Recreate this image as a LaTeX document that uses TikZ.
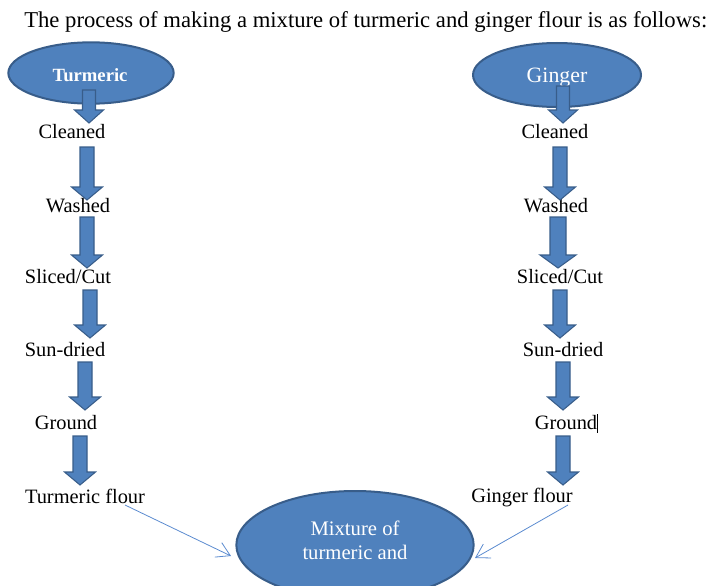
\documentclass[tikz,border=0pt]{standalone}
\usepackage{fontspec}
\setmainfont{Liberation Serif}
\usetikzlibrary{arrows.meta,shapes.geometric}
\definecolor{fillblue}{HTML}{4F81BD}
\definecolor{edgeblue}{HTML}{385D8A}
\definecolor{lineblue}{HTML}{5B8BD0}
\tikzset{
  lbl/.style={font=\fontsize{15.3}{17}\selectfont, inner sep=0pt, anchor=center},
  oval/.style={ellipse, fill=fillblue, draw=edgeblue, line width=1.5pt},
  thinarrow/.style={draw=lineblue, line width=0.6pt, -{Straight Barb[length=10pt,width=12pt,line width=0.6pt]}},
}
\newcommand{\barrow}[5]{% x, ytop, ytip, shaft half width, head half width
  \draw[fill=fillblue, draw=edgeblue, line width=0.8pt]
    ({#1-#4},#2) -- ({#1+#4},#2) -- ({#1+#4},{#3-13}) -- ({#1+#5},{#3-13})
    -- (#1,#3) -- ({#1-#5},{#3-13}) -- ({#1-#4},{#3-13}) -- cycle;}
\begin{document}
\begin{tikzpicture}[x=0.75pt,y=-0.75pt]
\useasboundingbox (0,0) rectangle (712,585);
\clip (0,0) rectangle (712,585);
\node[lbl, font=\fontsize{17}{19}\selectfont, anchor=west] (title) at (24,22) {The process of making a mixture of turmeric and ginger flour is as follows:};

% ovals
\node[oval, minimum width=124pt, minimum height=46pt] (t0) at (91,73) {};
\node[font=\fontsize{14}{16}\selectfont\bfseries, text=white] at (90,75) {Turmeric};
\node[oval, minimum width=126pt, minimum height=48pt] (g0) at (557,75) {};
\node[font=\fontsize{16.4}{18}\selectfont, text=white] at (557,78) {Ginger};
\node[oval, minimum width=178pt, minimum height=81pt] (mix) at (355,545) {};
\node[font=\fontsize{15.5}{18}\selectfont, text=white, align=center] at (355,540) {Mixture of\\turmeric and};

% left labels
\node[lbl] (t1) at (72,132) {Cleaned};
\node[lbl] (t2) at (78,206) {Washed};
\node[lbl] (t3) at (68,277) {Sliced/Cut};
\node[lbl] (t4) at (65,350) {Sun-dried};
\node[lbl] (t5) at (66,423) {Ground};
\node[lbl] (t6) at (85,496) {Turmeric flour};

% right labels
\node[lbl] (g1) at (555,132) {Cleaned};
\node[lbl] (g2) at (556,206) {Washed};
\node[lbl] (g3) at (560,277) {Sliced/Cut};
\node[lbl] (g4) at (563,350) {Sun-dried};
\node[lbl] (g5) at (566,423) {Ground};
\node[lbl] (g6) at (522,498) {Ginger flour};
\draw[line width=0.6pt] (597,414) -- (597,433);

% left block arrows
\barrow{89}{90}{123}{6.5}{14.5}
\barrow{87}{147}{200}{7}{15.5}
\barrow{87}{217}{268}{7}{15.5}
\barrow{90}{290}{338}{7}{15.5}
\barrow{85}{362}{410}{7}{15.5}
\barrow{80}{436}{485}{7}{15.5}

% right block arrows
\barrow{563}{86}{123}{6.5}{14.5}
\barrow{560}{147}{200}{7}{15.5}
\barrow{558}{217}{268}{8}{18}
\barrow{560}{290}{338}{7}{15.5}
\barrow{563}{362}{410}{7}{15.5}
\barrow{563}{436}{485}{7}{15.5}

% thin connectors
\coordinate (ts) at (125,505);
\coordinate (te) at (231,556);
\coordinate (gs) at (568,505);
\coordinate (ge) at (475,558);
\draw[thinarrow] (ts) -- (te);
\draw[thinarrow] (gs) -- (ge);
\end{tikzpicture}
\end{document}
